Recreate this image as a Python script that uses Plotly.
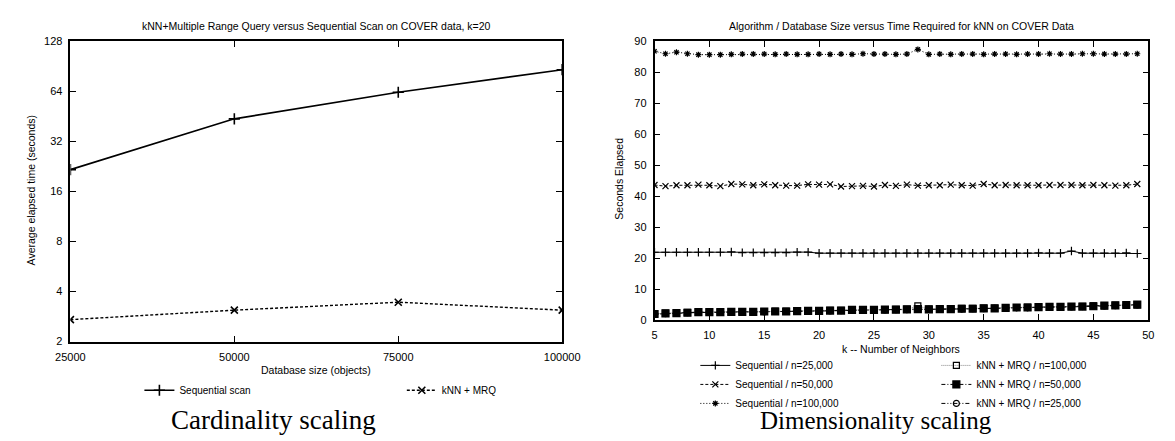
import plotly.graph_objects as go

# ---------------- data ----------------
db_sizes = [25000, 50000, 75000, 100000]
seq_scan = [21.6, 43.6, 63.0, 86.1]
knn_mrq = [2.71, 3.09, 3.45, 3.09]
left_yticks = [2, 4, 8, 16, 32, 64, 128]

k_values = list(range(5, 50))
seq_25k = [21.9, 21.9, 21.9, 21.9, 21.9, 21.9, 21.9, 22.0, 21.8, 21.8, 21.8, 21.8, 21.8, 21.95, 21.95,
           21.6, 21.6, 21.6, 21.6, 21.6, 21.6, 21.6, 21.6, 21.6, 21.6, 21.6, 21.6, 21.6, 21.6, 21.6,
           21.6, 21.6, 21.6, 21.6, 21.6, 21.7, 21.6, 21.6, 22.3, 21.6, 21.6, 21.6, 21.6, 21.7, 21.5]
seq_50k = [43.6, 43.2, 43.5, 43.5, 43.7, 43.5, 43.2, 43.9, 43.8, 43.5, 43.8, 43.5, 43.4, 43.4, 43.8,
           43.7, 43.8, 43.1, 43.2, 43.3, 43.1, 43.6, 43.3, 43.7, 43.4, 43.5, 43.5, 43.7, 43.5, 43.4,
           43.9, 43.5, 43.6, 43.5, 43.5, 43.5, 43.6, 43.6, 43.6, 43.5, 43.6, 43.5, 43.4, 43.5, 43.9]
seq_100k = [86.7, 85.9, 86.4, 85.9, 85.6, 85.6, 85.6, 85.7, 85.8, 85.8, 85.8, 85.7, 85.8, 85.7, 85.7,
            85.8, 85.7, 85.8, 85.7, 85.9, 85.8, 85.8, 85.7, 85.8, 87.3, 85.7, 85.8, 85.7, 85.8, 85.8,
            85.7, 85.8, 85.8, 85.7, 85.8, 85.8, 85.9, 85.8, 85.8, 85.9, 85.9, 85.8, 85.8, 85.8, 85.9]
knn_100k = [2.1, 2.3, 2.3, 2.5, 2.6, 2.7, 2.6, 2.7, 2.8, 2.7, 2.8, 2.9, 2.9, 3.0, 3.0,
            3.1, 3.2, 3.2, 3.3, 3.4, 3.3, 3.4, 3.5, 3.5, 4.6, 3.6, 3.6, 3.7, 3.8, 3.8,
            3.9, 3.9, 4.0, 4.1, 4.2, 4.2, 4.3, 4.4, 4.4, 4.5, 4.6, 4.7, 4.8, 4.9, 5.0]
knn_50k = [2.0, 2.2, 2.3, 2.4, 2.6, 2.6, 2.6, 2.7, 2.7, 2.7, 2.8, 2.8, 2.8, 2.9, 3.0,
           3.0, 3.1, 3.1, 3.3, 3.3, 3.3, 3.4, 3.4, 3.5, 3.6, 3.5, 3.6, 3.6, 3.7, 3.7,
           3.8, 3.8, 4.0, 4.1, 4.1, 4.2, 4.3, 4.3, 4.4, 4.4, 4.5, 4.7, 4.8, 4.9, 5.0]
knn_25k = [1.9, 2.1, 2.2, 2.4, 2.5, 2.5, 2.5, 2.6, 2.6, 2.7, 2.7, 2.8, 2.8, 2.9, 2.9,
           3.0, 3.0, 3.1, 3.2, 3.2, 3.3, 3.3, 3.4, 3.4, 3.5, 3.5, 3.5, 3.6, 3.6, 3.7,
           3.7, 3.8, 3.9, 4.0, 4.0, 4.1, 4.2, 4.2, 4.3, 4.4, 4.5, 4.6, 4.7, 4.8, 4.9]

# ---------------- layout helpers ----------------
W, H = 1175, 441
FONT = "Liberation Sans, Arial, sans-serif"
SERIF = "Liberation Serif, Times New Roman, serif"


def fx(p):
    return p / W


def fy(p):
    return 1 - p / H


fig = go.Figure()

# ---- left chart ----
fig.add_trace(go.Scatter(
    x=db_sizes, y=seq_scan, name="Sequential scan", mode="lines+markers",
    line=dict(color="black", width=1.6),
    marker=dict(symbol="cross-thin-open", size=8, line=dict(color="black", width=1.6)),
    xaxis="x", yaxis="y", legend="legend"))
fig.add_trace(go.Scatter(
    x=db_sizes, y=knn_mrq, name="kNN + MRQ", mode="lines+markers",
    line=dict(color="black", width=1.4, dash="3px,2px"),
    marker=dict(symbol="x-thin-open", size=7, line=dict(color="black", width=1.6)),
    xaxis="x", yaxis="y", legend="legend2"))

# ---- right chart ----
right_series = [
    ("Sequential / n=25,000", seq_25k, "solid", "cross-thin-open", 6, "legend3", "black"),
    ("Sequential / n=50,000", seq_50k, "3px,2px", "x-thin-open", 6, "legend3", "black"),
    ("Sequential / n=100,000", seq_100k, "1px,2px", "asterisk-open", 5, "legend3", "black"),
    ("kNN + MRQ / n=100,000", knn_100k, "1px,1px", "square-open", 6, "legend4", "#888888"),
    ("kNN + MRQ / n=50,000", knn_50k, "4px,2px,1px,2px", "square", 7, "legend4", "black"),
    ("kNN + MRQ / n=25,000", knn_25k, "4px,2px,1px,2px,1px,2px", "circle-open", 6, "legend4", "black"),
]
for name, vals, dash, sym, size, leg, lcolor in right_series:
    fig.add_trace(go.Scatter(
        x=k_values, y=vals, name=name, mode="lines+markers",
        line=dict(color=lcolor, width=1, dash=dash),
        marker=dict(symbol=sym, size=size, color="black", line=dict(color="black", width=1.2)),
        xaxis="x2", yaxis="y2", legend=leg))

axis_common = dict(showline=True, linecolor="black", linewidth=1.5, mirror="ticks",
                   ticks="inside", tickcolor="black", tickwidth=1, ticklen=6,
                   showgrid=False, zeroline=False, ticklabelstandoff=4,
                   tickfont=dict(family=FONT, size=11, color="black"))


def legend_at(x_px, y_px):
    return dict(orientation="v", x=fx(x_px), y=fy(y_px), xanchor="left", yanchor="middle",
                bgcolor="rgba(0,0,0,0)", borderwidth=0, traceorder="normal",
                font=dict(family=FONT, size=10, color="black"))


fig.update_layout(
    width=W, height=H,
    margin=dict(l=0, r=0, t=0, b=0),
    paper_bgcolor="white", plot_bgcolor="white",
    font=dict(family=FONT, color="black"),
    xaxis=dict(domain=[fx(57), fx(563)], range=[25000, 100000],
               tickvals=db_sizes, ticktext=[str(v) for v in db_sizes], anchor="y", **axis_common),
    yaxis=dict(domain=[fy(345), fy(36)], type="log", range=[0.30103, 2.10721],
               tickvals=left_yticks, ticktext=[str(v) for v in left_yticks], anchor="x", **axis_common),
    xaxis2=dict(domain=[fx(658), fx(1166)], range=[5, 50], tickvals=list(range(5, 51, 5)),
                anchor="y2", **axis_common),
    yaxis2=dict(domain=[fy(323), fy(36)], range=[0, 90], tickvals=list(range(0, 91, 10)),
                anchor="x2", **axis_common),
    legend=legend_at(128, 395),
    legend2=legend_at(398, 395),
    legend3=legend_at(700, 389),
    legend4=legend_at(948, 389),
    showlegend=True,
)

annotations = [
    dict(text="kNN+Multiple Range Query versus Sequential Scan on COVER data, k=20",
         x=fx(310), y=fy(21), font=dict(size=10.5)),
    dict(text="Algorithm / Database Size versus Time Required for kNN on COVER Data",
         x=fx(912), y=fy(21), font=dict(size=10.5)),
    dict(text="Database size (objects)", x=fx(310), y=fy(374), font=dict(size=10.5)),
    dict(text="k -- Number of Neighbors", x=fx(912), y=fy(353), font=dict(size=10.5)),
    dict(text="Average elapsed time (seconds)", x=fx(16), y=fy(190), textangle=-90,
         font=dict(size=10.5)),
    dict(text="Seconds Elapsed", x=fx(622), y=fy(178), textangle=-90, font=dict(size=10.5)),
    dict(text="Cardinality scaling", x=fx(266), y=fy(426),
         font=dict(family=SERIF, size=27)),
    dict(text="Dimensionality scaling", x=fx(886), y=fy(426),
         font=dict(family=SERIF, size=25)),
]
for a in annotations:
    a.update(xref="paper", yref="paper", showarrow=False, xanchor="center", yanchor="middle")
    a["font"] = dict(family=a["font"].get("family", FONT), size=a["font"]["size"], color="black")
fig.update_layout(annotations=annotations)

fig.write_html("out.html")
